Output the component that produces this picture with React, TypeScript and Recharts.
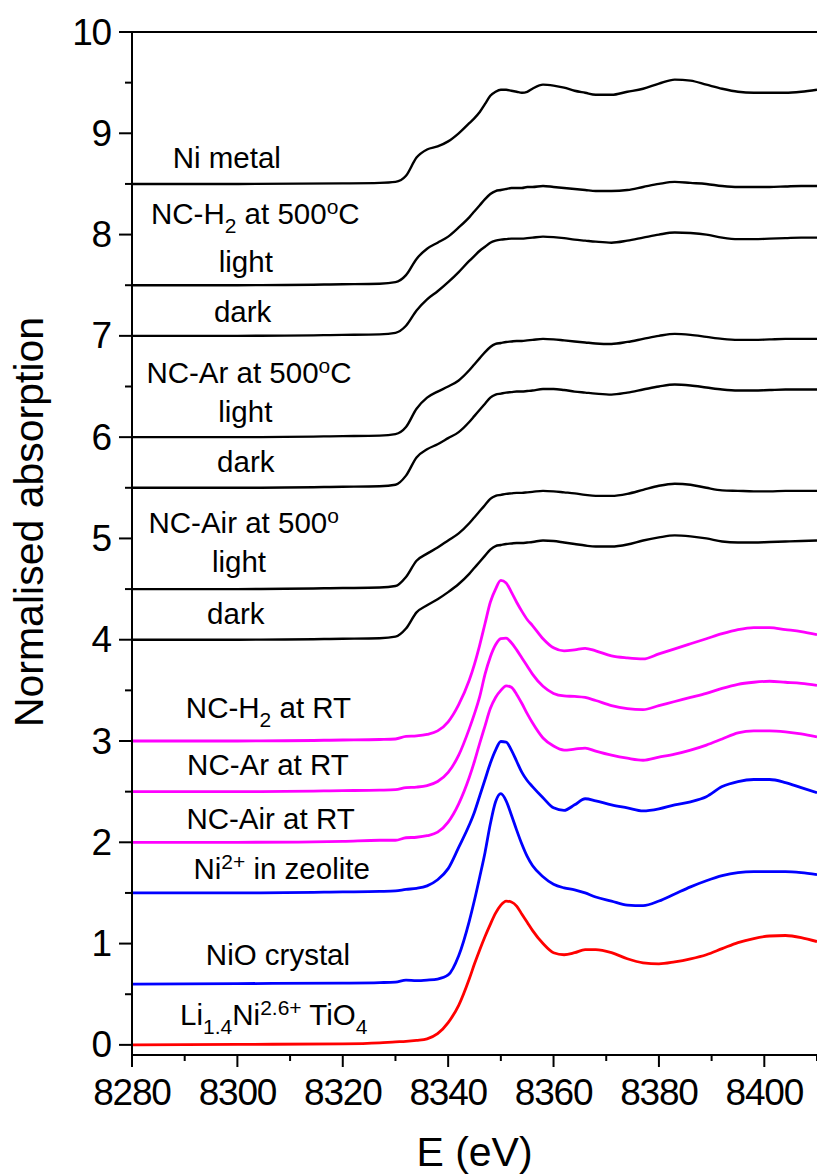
import React from 'react';
import { LineChart, Line, XAxis, YAxis, ReferenceLine, ReferenceDot, Label } from 'recharts';

const FONT = "Arial, 'Liberation Sans', Helvetica, sans-serif";

// Photon energy grid (eV)
const energy = [
  8280, 8300, 8320, 8327, 8330, 8332, 8334, 8336, 8338, 8340, 8342, 8344, 8345, 8346, 8347,
  8348, 8349, 8350, 8351, 8352, 8353, 8354, 8355, 8356, 8358, 8360, 8362, 8364, 8366, 8368,
  8371, 8374, 8377, 8380, 8383, 8386, 8389, 8392, 8395, 8398, 8401, 8404, 8407, 8410,
];

// Normalised absorption, each spectrum carries its own vertical offset
const niMetal = [
  8.5, 8.5, 8.505, 8.51, 8.52, 8.58, 8.76, 8.84, 8.87, 8.92, 9.0, 9.1, 9.15, 9.21, 9.29,
  9.37, 9.41, 9.43, 9.43, 9.42, 9.41, 9.4, 9.41, 9.44, 9.48, 9.47, 9.45, 9.42, 9.4, 9.38,
  9.38, 9.41, 9.44, 9.49, 9.53, 9.52, 9.48, 9.44, 9.41, 9.4, 9.4, 9.4, 9.41, 9.43,
];
const h2HotLight = [
  7.5, 7.5, 7.51, 7.515, 7.53, 7.6, 7.76, 7.86, 7.92, 7.98, 8.07, 8.17, 8.23, 8.29, 8.35,
  8.4, 8.43, 8.44, 8.45, 8.46, 8.46, 8.46, 8.47, 8.47, 8.48, 8.47, 8.46, 8.45, 8.44, 8.43,
  8.43, 8.44, 8.47, 8.5, 8.52, 8.51, 8.5, 8.48, 8.47, 8.47, 8.47, 8.475, 8.48, 8.48,
];
const h2HotDark = [
  7.0, 7.0, 7.01, 7.015, 7.03, 7.1, 7.25, 7.36, 7.44, 7.53, 7.63, 7.74, 7.79, 7.84, 7.88,
  7.92, 7.94, 7.95, 7.955, 7.96, 7.96, 7.96, 7.965, 7.97, 7.98, 7.975, 7.965, 7.95, 7.94, 7.93,
  7.92, 7.94, 7.97, 8.0, 8.02, 8.015, 8.0, 7.97, 7.955, 7.955, 7.96, 7.965, 7.97, 7.97,
];
const arHotLight = [
  6.0, 6.0, 6.01, 6.015, 6.03, 6.1, 6.28, 6.39, 6.45, 6.5, 6.56, 6.66, 6.72, 6.78, 6.84,
  6.89, 6.92, 6.93, 6.94, 6.945, 6.95, 6.95, 6.955, 6.96, 6.97, 6.965, 6.955, 6.945, 6.935, 6.925,
  6.92, 6.94, 6.97, 7.0, 7.02, 7.01, 6.99, 6.97, 6.96, 6.96, 6.965, 6.97, 6.97, 6.97,
];
const arHotDark = [
  5.5, 5.5, 5.51, 5.515, 5.53, 5.62, 5.8, 5.88, 5.93, 5.99, 6.05, 6.15, 6.21, 6.27, 6.33,
  6.39, 6.42, 6.43, 6.44, 6.445, 6.45, 6.45, 6.455, 6.46, 6.475, 6.475, 6.465, 6.45, 6.44, 6.43,
  6.42, 6.44, 6.47, 6.5, 6.52, 6.51, 6.49, 6.47, 6.46, 6.46, 6.465, 6.47, 6.47, 6.47,
];
const airHotLight = [
  4.5, 4.5, 4.51, 4.515, 4.53, 4.62, 4.78, 4.85, 4.91, 4.98, 5.05, 5.15, 5.21, 5.27, 5.33,
  5.39, 5.42, 5.43, 5.44, 5.445, 5.45, 5.45, 5.455, 5.46, 5.47, 5.465, 5.455, 5.445, 5.43, 5.42,
  5.42, 5.44, 5.48, 5.52, 5.54, 5.53, 5.5, 5.475, 5.47, 5.465, 5.465, 5.47, 5.47, 5.47,
];
const airHotDark = [
  4.0, 4.0, 4.01, 4.015, 4.03, 4.11, 4.27, 4.34, 4.4, 4.47, 4.55, 4.65, 4.71, 4.77, 4.83,
  4.89, 4.925, 4.935, 4.945, 4.95, 4.955, 4.955, 4.96, 4.965, 4.98, 4.975, 4.96, 4.945, 4.93, 4.92,
  4.92, 4.94, 4.98, 5.01, 5.03, 5.02, 5.0, 4.97, 4.96, 4.96, 4.965, 4.97, 4.975, 4.98,
];
const h2Room = [
  3.0, 3.0, 3.01, 3.015, 3.02, 3.045, 3.05, 3.065, 3.1, 3.19, 3.36, 3.6, 3.76, 3.95, 4.16,
  4.37, 4.5, 4.585, 4.56, 4.47, 4.37, 4.28, 4.2, 4.14, 4.01, 3.92, 3.89, 3.9, 3.915, 3.89,
  3.84, 3.82, 3.81, 3.86, 3.91, 3.96, 4.01, 4.06, 4.1, 4.12, 4.12, 4.1, 4.08, 4.05,
];
const arRoom = [
  2.5, 2.5, 2.51, 2.515, 2.52, 2.54, 2.545, 2.56, 2.6, 2.69, 2.86, 3.12, 3.27, 3.44, 3.66,
  3.83, 3.95, 4.01, 4.015, 3.97, 3.9, 3.82, 3.74, 3.66, 3.54, 3.47, 3.445, 3.44, 3.43, 3.4,
  3.35, 3.32, 3.31, 3.35, 3.39, 3.43, 3.47, 3.52, 3.56, 3.58, 3.59, 3.58, 3.57, 3.55,
];
const airRoom = [
  2.0, 2.0, 2.01, 2.02, 2.02, 2.045, 2.05, 2.065, 2.1, 2.2, 2.38, 2.64, 2.8, 2.98, 3.15,
  3.32, 3.43, 3.5, 3.545, 3.53, 3.46, 3.37, 3.27, 3.18, 3.03, 2.95, 2.91, 2.92, 2.93, 2.9,
  2.86, 2.83, 2.81, 2.84, 2.87, 2.91, 2.96, 3.02, 3.08, 3.1, 3.1, 3.09, 3.07, 3.04,
];
const niZeolite = [
  1.5, 1.5, 1.51, 1.515, 1.52, 1.535, 1.545, 1.57, 1.63, 1.74, 1.95, 2.17, 2.3, 2.46, 2.62,
  2.78, 2.91, 2.995, 2.99, 2.91, 2.8, 2.69, 2.61, 2.55, 2.44, 2.34, 2.315, 2.37, 2.43, 2.41,
  2.37, 2.34, 2.31, 2.33, 2.37, 2.4, 2.45, 2.55, 2.6, 2.62, 2.62, 2.59, 2.54, 2.49,
];
const nioCrystal = [
  0.6, 0.605, 0.61, 0.615, 0.62, 0.64, 0.635, 0.64, 0.65, 0.69, 0.88, 1.22, 1.43, 1.66, 1.9,
  2.18, 2.4, 2.48, 2.41, 2.27, 2.12, 1.98, 1.86, 1.77, 1.66, 1.585, 1.55, 1.53, 1.5, 1.46,
  1.42, 1.38, 1.375, 1.42, 1.49, 1.56, 1.62, 1.67, 1.7, 1.71, 1.71, 1.71, 1.7, 1.68,
];
const liNiTiO4 = [
  0.0, 0.005, 0.01, 0.02, 0.03, 0.035, 0.045, 0.06, 0.11, 0.22, 0.39, 0.65, 0.8, 0.94, 1.07,
  1.19, 1.3, 1.38, 1.42, 1.41, 1.37, 1.29, 1.21, 1.13, 1.0, 0.91, 0.89, 0.91, 0.94, 0.94,
  0.91, 0.85, 0.81, 0.8, 0.82, 0.85, 0.89, 0.95, 1.01, 1.05, 1.075, 1.08, 1.06, 1.02,
];

const BLACK = '#000000';
const MAGENTA = '#ff00ff';
const BLUE = '#0000ff';
const RED = '#ff0000';

const seriesList = [
  { key: 'niMetal', values: niMetal, color: BLACK },
  { key: 'h2HotLight', values: h2HotLight, color: BLACK },
  { key: 'h2HotDark', values: h2HotDark, color: BLACK },
  { key: 'arHotLight', values: arHotLight, color: BLACK },
  { key: 'arHotDark', values: arHotDark, color: BLACK },
  { key: 'airHotLight', values: airHotLight, color: BLACK },
  { key: 'airHotDark', values: airHotDark, color: BLACK },
  { key: 'h2Room', values: h2Room, color: MAGENTA },
  { key: 'arRoom', values: arRoom, color: MAGENTA },
  { key: 'airRoom', values: airRoom, color: MAGENTA },
  { key: 'niZeolite', values: niZeolite, color: BLUE },
  { key: 'nioCrystal', values: nioCrystal, color: BLUE },
  { key: 'liNiTiO4', values: liNiTiO4, color: RED },
];

const xTicks = [8280, 8290, 8300, 8310, 8320, 8330, 8340, 8350, 8360, 8370, 8380, 8390, 8400, 8410];
const yTicks = [0, 0.5, 1, 1.5, 2, 2.5, 3, 3.5, 4, 4.5, 5, 5.5, 6, 6.5, 7, 7.5, 8, 8.5, 9, 9.5, 10];

type Part = { t: string; sub?: boolean; sup?: boolean };

// Spectrum names, anchored in data coordinates (eV, absorption)
const annotations: { parts: Part[]; e: number; v: number }[] = [
  { parts: [{ t: 'Ni metal' }], e: 8298.0, v: 8.654 },
  { parts: [{ t: 'NC-H' }, { t: '2', sub: true }, { t: ' at 500' }, { t: 'o', sup: true }, { t: 'C' }], e: 8303.4, v: 8.101 },
  { parts: [{ t: 'light' }], e: 8301.6, v: 7.63 },
  { parts: [{ t: 'dark' }], e: 8301.0, v: 7.137 },
  { parts: [{ t: 'NC-Ar at 500' }, { t: 'o', sup: true }, { t: 'C' }], e: 8302.2, v: 6.538 },
  { parts: [{ t: 'light' }], e: 8301.5, v: 6.153 },
  { parts: [{ t: 'dark' }], e: 8301.6, v: 5.659 },
  { parts: [{ t: 'NC-Air at 500' }, { t: 'o', sup: true }], e: 8301.2, v: 5.051 },
  { parts: [{ t: 'light' }], e: 8300.3, v: 4.672 },
  { parts: [{ t: 'dark' }], e: 8299.7, v: 4.16 },
  { parts: [{ t: 'NC-H' }, { t: '2', sub: true }, { t: ' at RT' }], e: 8305.9, v: 3.224 },
  { parts: [{ t: 'NC-Ar at RT' }], e: 8305.8, v: 2.664 },
  { parts: [{ t: 'NC-Air at RT' }], e: 8306.3, v: 2.128 },
  { parts: [{ t: 'Ni' }, { t: '2+', sup: true }, { t: ' in zeolite' }], e: 8308.4, v: 1.635 },
  { parts: [{ t: 'NiO crystal' }], e: 8307.7, v: 0.789 },
  { parts: [{ t: 'Li' }, { t: '1.4', sub: true }, { t: 'Ni' }, { t: '2.6+', sup: true }, { t: ' TiO' }, { t: '4', sub: true }], e: 8306.9, v: 0.196 },
];

const rows = energy.map((e, i) => {
  const r: Record<string, number> = { E: e };
  seriesList.forEach((s) => {
    r[s.key] = s.values[i];
  });
  return r;
});

const renderParts = (parts: Part[]) => {
  let shift = 0;
  return parts.map((p, i) => {
    const target = p.sub ? 9 : p.sup ? -10 : 0;
    const dy = target - shift;
    shift = target;
    return (
      <tspan key={i} dy={dy} fontSize={p.sub || p.sup ? 21 : 29.5}>
        {p.t}
      </tspan>
    );
  });
};

const AnnotationShape = (parts: Part[]) => (props: any) => (
  <text
    x={props.cx}
    y={props.cy}
    textAnchor="middle"
    fontFamily={FONT}
    fontSize={29.5}
    fill="#000"
  >
    {renderParts(parts)}
  </text>
);

const XTick = (props: any) => {
  const { x, y, payload } = props;
  const major = payload.value % 20 === 0;
  return (
    <g>
      <line x1={x} y1={y} x2={x} y2={y + (major ? 12 : 6)} stroke="#000" strokeWidth={2} />
      {major && (
        <text
          x={x}
          y={y + 50}
          textAnchor="middle"
          fontFamily={FONT}
          fontSize={37}
          letterSpacing={-1.2}
          fill="#000"
        >
          {payload.value}
        </text>
      )}
    </g>
  );
};

const YTick = (props: any) => {
  const { x, y, payload } = props;
  const major = Number.isInteger(payload.value);
  return (
    <g>
      <line x1={x - (major ? 13 : 7)} y1={y} x2={x} y2={y} stroke="#000" strokeWidth={2} />
      {major && (
        <text
          x={x - 21}
          y={y + 12.5}
          textAnchor="end"
          fontFamily={FONT}
          fontSize={37}
          letterSpacing={-1.2}
          fill="#000"
        >
          {payload.value}
        </text>
      )}
    </g>
  );
};

export default function App() {
  return (
    <div
      style={{
        position: 'absolute',
        left: 0,
        top: 0,
        width: 817,
        height: 1175,
        overflow: 'hidden',
        background: '#fff',
      }}
    >
      <LineChart width={817} height={1175} data={rows} margin={{ top: 32, right: 0, bottom: 0, left: 0 }}>
        <XAxis
          dataKey="E"
          type="number"
          domain={[8280, 8410]}
          ticks={xTicks}
          interval={0}
          allowDataOverflow
          height={120}
          tickSize={0}
          tickMargin={0}
          tickLine={false}
          axisLine={{ stroke: '#000', strokeWidth: 2 }}
          tick={<XTick />}
        >
          <Label
            content={(p: any) => {
              const vb = p.viewBox;
              return (
                <text x={vb.x + vb.width / 2} y={vb.y + 111} textAnchor="middle" fontFamily={FONT} fontSize={41} fill="#000">
                  E (eV)
                </text>
              );
            }}
          />
        </XAxis>
        <YAxis
          type="number"
          domain={[-0.1, 10]}
          ticks={yTicks}
          interval={0}
          allowDataOverflow
          width={132}
          tickSize={0}
          tickMargin={0}
          tickLine={false}
          axisLine={{ stroke: '#000', strokeWidth: 2 }}
          tick={<YTick />}
        >
          <Label
            content={() => (
              <text
                x={43}
                y={522}
                transform="rotate(-90, 43, 522)"
                textAnchor="middle"
                fontFamily={FONT}
                fontSize={41}
                fill="#000"
              >
                Normalised absorption
              </text>
            )}
          />
        </YAxis>
        <ReferenceLine y={10} stroke="#000" strokeWidth={2} />
        {seriesList.map((s) => (
          <Line
            key={s.key}
            dataKey={s.key}
            type="monotone"
            stroke={s.color}
            strokeWidth={s.color === BLACK ? 2.4 : 2.8}
            dot={false}
            activeDot={false}
            isAnimationActive={false}
          />
        ))}
        {annotations.map((a, i) => (
          <ReferenceDot key={i} x={a.e} y={a.v} r={1} shape={AnnotationShape(a.parts)} />
        ))}
      </LineChart>
    </div>
  );
}
